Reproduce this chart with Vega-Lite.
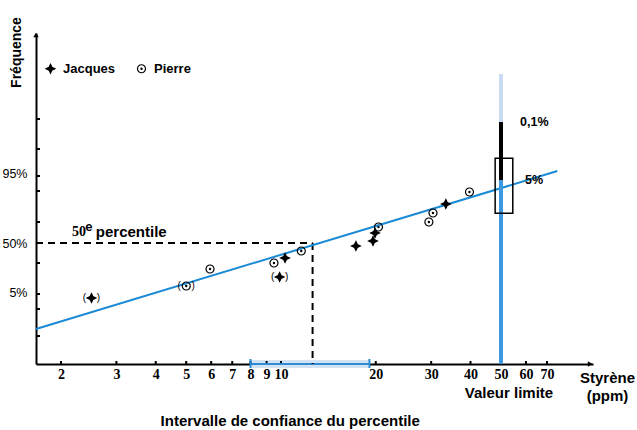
{
  "$schema": "https://vega.github.io/schema/vega-lite/v6.json",
  "width": 557,
  "height": 331,
  "autosize": {"type": "none"},
  "padding": {"left": 36, "top": 33, "right": 44, "bottom": 66},
  "background": "white",
  "config": {"view": {"stroke": null}, "font": "Liberation Sans"},
  "datasets": {
    "points": [
      {"ppm": 2.5, "pos": -55, "personne": "Jacques", "paren": true},
      {"ppm": 10.3, "pos": -15, "personne": "Jacques", "paren": false},
      {"ppm": 9.9, "pos": -34, "personne": "Jacques", "paren": true},
      {"ppm": 17.3, "pos": -3, "personne": "Jacques", "paren": false},
      {"ppm": 19.6, "pos": 2, "personne": "Jacques", "paren": false},
      {"ppm": 19.9, "pos": 10, "personne": "Jacques", "paren": false},
      {"ppm": 33.4, "pos": 39, "personne": "Jacques", "paren": false},
      {"ppm": 5.0, "pos": -43, "personne": "Pierre", "paren": true},
      {"ppm": 5.95, "pos": -26, "personne": "Pierre", "paren": false},
      {"ppm": 9.5, "pos": -20, "personne": "Pierre", "paren": false},
      {"ppm": 11.6, "pos": -8, "personne": "Pierre", "paren": false},
      {"ppm": 20.4, "pos": 16, "personne": "Pierre", "paren": false},
      {"ppm": 29.5, "pos": 21, "personne": "Pierre", "paren": false},
      {"ppm": 30.4, "pos": 30, "personne": "Pierre", "paren": false},
      {"ppm": 39.7, "pos": 51, "personne": "Pierre", "paren": false}
    ],
    "regression": [
      {"ppm": 1.666, "pos": -86},
      {"ppm": 75.5, "pos": 72}
    ],
    "dashes": [
      {"ppm": 1.666, "pos": 0, "ppm2": 12.6, "pos2": 0},
      {"ppm": 12.6, "pos": 0, "ppm2": 12.6, "pos2": -121}
    ],
    "limit": [
      {"seg": "bas", "ppm": 50, "pos": -121, "pos2": 63},
      {"seg": "milieu", "ppm": 50, "pos": 63, "pos2": 121},
      {"seg": "haut", "ppm": 50, "pos": 121, "pos2": 169}
    ],
    "box": [{"ppm": 47.9, "ppm2": 54.5, "pos": 29.7, "pos2": 84.7}],
    "ci": [{"ppm": 8, "ppm2": 19.1, "pos": -121}],
    "yticks": [{"pos": 124}, {"pos": 94}, {"pos": 67}, {"pos": 52}, {"pos": 21}, {"pos": 0}, {"pos": -20}, {"pos": -51}, {"pos": -66}, {"pos": -93}],
    "xticks": [{"ppm": 2}, {"ppm": 3}, {"ppm": 4}, {"ppm": 5}, {"ppm": 6}, {"ppm": 7}, {"ppm": 8}, {"ppm": 9}, {"ppm": 10}, {"ppm": 20}, {"ppm": 30}, {"ppm": 40}, {"ppm": 50}, {"ppm": 60}, {"ppm": 70}],
    "labels": [
      {"ppm": 57.5, "pos": 121, "txt": "0,1%", "size": 12.5},
      {"ppm": 59.6, "pos": 63, "txt": "5%", "size": 12.5},
      {"ppm": 2.58, "pos": 11, "txt": "percentile", "size": 15}
    ],
    "centered": [
      {"ppm": 53, "pos": -150, "txt": "Valeur limite"},
      {"ppm": 10.7, "pos": -178, "txt": "Intervalle de confiance du percentile"}
    ]
  },
  "layer": [
    {
      "data": {"name": "ci"},
      "mark": {"type": "rect", "fill": "#d4e3f4", "clip": false},
      "encoding": {
        "x": {"field": "ppm", "type": "quantitative", "scale": {"type": "log", "domain": [1.666, 98], "nice": false},
          "axis": {
            "values": [2, 3, 4, 5, 6, 7, 8, 9, 10, 20, 30, 40, 50, 60, 70],
            "format": "d",
            "labelOverlap": false,
            "labelFlush": false,
            "grid": false,
            "ticks": false,
            "domainColor": "black", "domainWidth": 2,
            "labelFont": "Liberation Sans Narrow", "labelFontSize": 14, "labelFontWeight": "bold", "labelColor": "black",
            "labelPadding": 3,
            "title": ["Styrène", "(ppm)"],
            "titleFont": "Liberation Sans", "titleFontSize": 15, "titleFontWeight": "bold", "titleColor": "black",
            "titleX": 571, "titleY": 6, "titleAlign": "center", "titleBaseline": "top", "titleAngle": 0, "titleLineHeight": 18
          }},
        "x2": {"field": "ppm2"},
        "y": {"field": "pos", "type": "quantitative", "scale": {"domain": [-121, 210], "nice": false, "zero": false},
          "axis": {
            "values": [70, 0, -49],
            "labelExpr": "datum.value > 60 ? '95%' : datum.value > -5 ? '50%' : '5%'",
            "labelOverlap": false,
            "grid": false,
            "ticks": false,
            "domainColor": "black", "domainWidth": 2,
            "labelFont": "Liberation Sans", "labelFontSize": 12.5, "labelColor": "black", "labelPadding": 9,
            "title": "Fréquence",
            "titleFont": "Liberation Sans", "titleFontSize": 14, "titleFontWeight": "bold", "titleColor": "black",
            "titleX": -20, "titleY": 19, "titleAngle": -90, "titleAlign": "center", "titleBaseline": "middle"
          }},
        "y2": {"datum": -125}
      }
    },
    {
      "data": {"name": "ci"},
      "mark": {"type": "rect", "fill": "#d4e3f4", "clip": false},
      "encoding": {
        "x": {"field": "ppm", "type": "quantitative"},
        "x2": {"field": "ppm2"},
        "y": {"datum": -117},
        "y2": {"datum": -121}
      }
    },
    {
      "data": {"name": "yticks"},
      "mark": {"type": "rule", "color": "black", "strokeWidth": 2, "x2Offset": 4},
      "encoding": {
        "x": {"datum": 1.666, "type": "quantitative"},
        "x2": {"datum": 1.666},
        "y": {"field": "pos", "type": "quantitative"}
      }
    },
    {
      "data": {"name": "xticks"},
      "mark": {"type": "rule", "color": "black", "strokeWidth": 2, "y2Offset": -3},
      "encoding": {
        "x": {"field": "ppm", "type": "quantitative"},
        "y": {"datum": -121, "type": "quantitative"},
        "y2": {"datum": -121}
      }
    },
    {
      "data": {"name": "ci"},
      "mark": {"type": "rule", "color": "#2b8bd3", "strokeWidth": 2, "clip": false},
      "encoding": {
        "x": {"field": "ppm", "type": "quantitative"},
        "x2": {"field": "ppm2"},
        "y": {"field": "pos", "type": "quantitative"}
      }
    },
    {
      "data": {"name": "ci"},
      "mark": {"type": "rule", "color": "#2b8bd3", "strokeWidth": 2, "clip": false},
      "encoding": {
        "x": {"field": "ppm", "type": "quantitative"},
        "y": {"datum": -116},
        "y2": {"datum": -125}
      }
    },
    {
      "data": {"name": "ci"},
      "mark": {"type": "rule", "color": "#2b8bd3", "strokeWidth": 2, "clip": false},
      "encoding": {
        "x": {"field": "ppm2", "type": "quantitative"},
        "y": {"datum": -116},
        "y2": {"datum": -125}
      }
    },
    {
      "data": {"name": "dashes"},
      "mark": {"type": "rule", "color": "black", "strokeWidth": 2, "strokeDash": [7, 5]},
      "encoding": {
        "x": {"field": "ppm", "type": "quantitative"},
        "x2": {"field": "ppm2"},
        "y": {"field": "pos", "type": "quantitative"},
        "y2": {"field": "pos2"}
      }
    },
    {
      "data": {"name": "regression"},
      "mark": {"type": "line", "color": "#1a8ad6", "strokeWidth": 2},
      "encoding": {
        "x": {"field": "ppm", "type": "quantitative"},
        "y": {"field": "pos", "type": "quantitative"}
      }
    },
    {
      "data": {"name": "limit"},
      "mark": {"type": "rule", "strokeWidth": 4},
      "encoding": {
        "x": {"field": "ppm", "type": "quantitative"},
        "y": {"field": "pos", "type": "quantitative"},
        "y2": {"field": "pos2"},
        "color": {"field": "seg", "type": "nominal", "scale": {"domain": ["bas", "milieu", "haut"], "range": ["#3d98e0", "#000000", "#c9dcf2"]}, "legend": null}
      }
    },
    {
      "data": {"name": "box"},
      "mark": {"type": "rect", "fill": null, "fillOpacity": 0, "stroke": "black", "strokeWidth": 1.5},
      "encoding": {
        "x": {"field": "ppm", "type": "quantitative"},
        "x2": {"field": "ppm2"},
        "y": {"field": "pos", "type": "quantitative"},
        "y2": {"field": "pos2"}
      }
    },
    {
      "data": {"name": "points"},
      "mark": {"type": "point", "stroke": "black", "strokeWidth": 1.2, "opacity": 1, "size": 64},
      "encoding": {
        "x": {"field": "ppm", "type": "quantitative"},
        "y": {"field": "pos", "type": "quantitative"},
        "shape": {"field": "personne", "type": "nominal",
          "scale": {"domain": ["Jacques", "Pierre"], "range": [
            "M0,-1.1L0.35,-0.35L1.1,0L0.35,0.35L0,1.1L-0.35,0.35L-1.1,0L-0.35,-0.35Z",
            "M1,0A1,1,0,1,1,-1,0A1,1,0,1,1,1,0ZM0.15,0A0.15,0.15,0,1,1,-0.15,0A0.15,0.15,0,1,1,0.15,0Z"
          ]},
          "legend": {
            "orient": "none", "legendX": 8, "legendY": 29, "direction": "horizontal", "title": null,
            "labelFont": "Liberation Sans", "labelFontSize": 13, "labelFontWeight": "bold", "labelColor": "black",
            "labelOffset": 6, "columnPadding": 19, "symbolSize": 64, "symbolStrokeWidth": 1.2,
            "encode": {"symbols": {"update": {
              "fill": {"signal": "datum.value === 'Jacques' ? 'black' : 'transparent'"},
              "stroke": {"value": "black"},
              "strokeWidth": {"value": 1.2},
              "opacity": {"value": 1}
            }}}
          }},
        "fill": {"field": "personne", "type": "nominal", "scale": {"domain": ["Jacques", "Pierre"], "range": ["black", "transparent"]}, "legend": null}
      }
    },
    {
      "data": {"name": "points"},
      "transform": [{"filter": "datum.paren"}],
      "mark": {"type": "text", "text": "(", "dx": -7, "fontSize": 10, "color": "black"},
      "encoding": {
        "x": {"field": "ppm", "type": "quantitative"},
        "y": {"field": "pos", "type": "quantitative"}
      }
    },
    {
      "data": {"name": "points"},
      "transform": [{"filter": "datum.paren"}],
      "mark": {"type": "text", "text": ")", "dx": 7, "fontSize": 10, "color": "black"},
      "encoding": {
        "x": {"field": "ppm", "type": "quantitative"},
        "y": {"field": "pos", "type": "quantitative"}
      }
    },
    {
      "data": {"name": "labels"},
      "mark": {"type": "text", "align": "left", "baseline": "middle", "fontWeight": "bold", "color": "black", "clip": false},
      "encoding": {
        "x": {"field": "ppm", "type": "quantitative"},
        "y": {"field": "pos", "type": "quantitative"},
        "text": {"field": "txt"},
        "size": {"field": "size", "type": "quantitative", "scale": null}
      }
    },
    {
      "data": {"values": [{"ppm": 2.167, "pos": 11, "txt": "50"}]},
      "mark": {"type": "text", "align": "left", "baseline": "middle", "font": "Liberation Sans Narrow", "fontWeight": "bold", "fontSize": 14, "color": "black"},
      "encoding": {
        "x": {"field": "ppm", "type": "quantitative"},
        "y": {"field": "pos", "type": "quantitative"},
        "text": {"field": "txt"}
      }
    },
    {
      "data": {"values": [{"ppm": 2.39, "pos": 16, "txt": "e"}]},
      "mark": {"type": "text", "align": "left", "baseline": "middle", "fontWeight": "bold", "fontSize": 13, "color": "black"},
      "encoding": {
        "x": {"field": "ppm", "type": "quantitative"},
        "y": {"field": "pos", "type": "quantitative"},
        "text": {"field": "txt"}
      }
    },
    {
      "data": {"name": "centered"},
      "mark": {"type": "text", "align": "center", "baseline": "middle", "fontWeight": "bold", "fontSize": 15, "color": "black", "clip": false},
      "encoding": {
        "x": {"field": "ppm", "type": "quantitative"},
        "y": {"field": "pos", "type": "quantitative"},
        "text": {"field": "txt"}
      }
    },
    {
      "data": {"values": [{}]},
      "mark": {"type": "point", "shape": "triangle-up", "filled": true, "color": "black", "size": 30, "opacity": 1, "clip": false},
      "encoding": {
        "x": {"datum": 1.666, "type": "quantitative"},
        "y": {"datum": 208, "type": "quantitative"}
      }
    },
    {
      "data": {"values": [{}]},
      "mark": {"type": "point", "shape": "triangle-right", "filled": true, "color": "black", "size": 30, "opacity": 1, "clip": false},
      "encoding": {
        "x": {"datum": 96, "type": "quantitative"},
        "y": {"datum": -121, "type": "quantitative"}
      }
    }
  ]
}
